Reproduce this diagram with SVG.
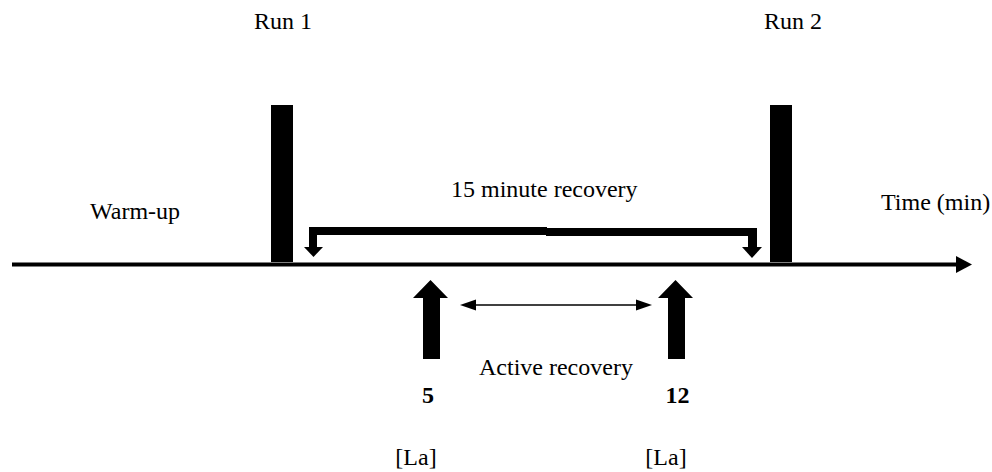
<svg xmlns="http://www.w3.org/2000/svg" width="992" height="472" viewBox="0 0 992 472">
<style>
text{font-family:"Liberation Serif","Times New Roman",serif;font-size:24px;fill:#000}
.b{font-weight:bold}
.f{fill:#000}
</style>
<rect width="992" height="472" fill="#fff"/>
<g id="connectors">
<line x1="12" y1="264.5" x2="958" y2="264.5" stroke="#000" stroke-width="4"/>
<polygon class="f" points="956,256 972,264.5 956,273"/>
<line x1="474" y1="305" x2="638" y2="305" stroke="#000" stroke-width="1.5"/>
<polygon class="f" points="460,305 476,299.5 476,310.5"/>
<polygon class="f" points="652,305 636,299.5 636,310.5"/>
</g>
<g id="run1"><rect class="f" x="271" y="105" width="22" height="157"/><text x="254" y="29">Run 1</text></g>
<g id="run2"><rect class="f" x="770" y="105" width="22" height="157"/><text x="764" y="29">Run 2</text></g>
<g id="recovery15">
<rect class="f" x="309" y="227" width="238" height="8"/>
<rect class="f" x="546" y="228" width="211" height="8"/>
<rect class="f" x="309" y="227" width="8" height="21"/>
<polygon class="f" points="304,247 323,247 313.5,257"/>
<rect class="f" x="748" y="228" width="9" height="20"/>
<polygon class="f" points="742,247 762,247 752,258"/>
<text x="451" y="197">15 minute recovery</text>
</g>
<g id="warmup"><text x="90" y="219">Warm-up</text></g>
<g id="time"><text x="881" y="210">Time (min)</text></g>
<g id="sample5">
<polygon class="f" points="430.5,280 448,298 440,298 440,359 423,359 423,298 413,298"/>
<text class="b" x="428" y="403" text-anchor="middle">5</text>
<text x="416" y="465" text-anchor="middle">[La]</text>
</g>
<g id="sample12">
<polygon class="f" points="675.5,280 693,298 685,298 685,359 668,359 668,298 658,298"/>
<text class="b" x="677.5" y="403" text-anchor="middle">12</text>
<text x="666" y="465" text-anchor="middle">[La]</text>
</g>
<g id="active"><text x="479" y="375">Active recovery</text></g>
</svg>
